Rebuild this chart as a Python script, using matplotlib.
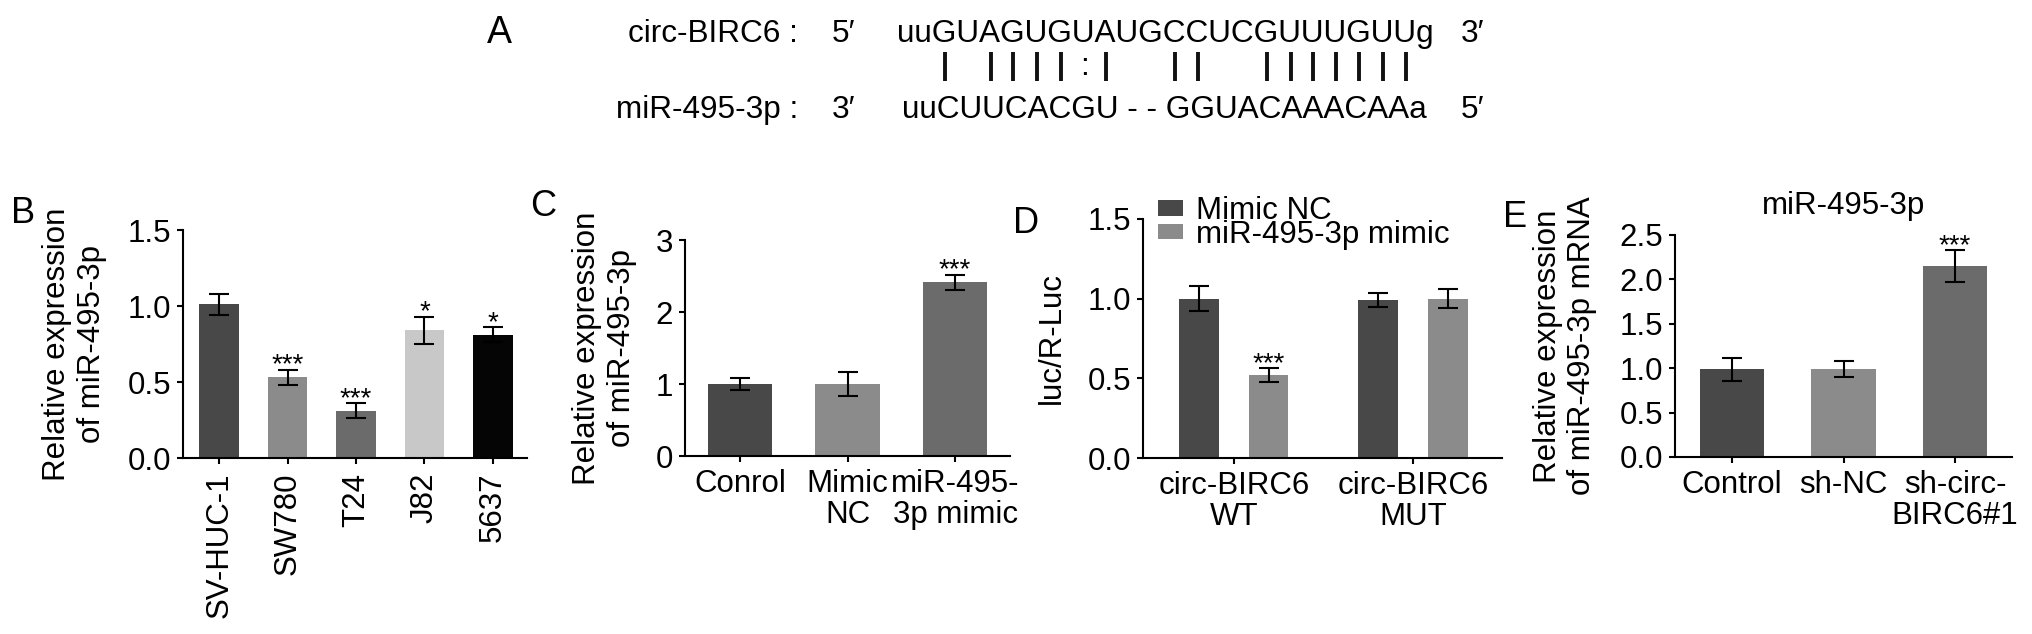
import matplotlib
matplotlib.use('Agg')
import matplotlib.pyplot as plt
import numpy as np
from matplotlib.font_manager import FontProperties
from matplotlib.lines import Line2D

plt.rcParams['font.family'] = ['Liberation Sans', 'DejaVu Sans']

# ---------------- data ----------------
a_top_name = 'circ-BIRC6 :'
a_top_seq = 'uuGUAGUGUAUGCCUCGUUUGUUg'
a_bot_name = 'miR-495-3p :'
a_bot_seq = 'uuCUUCACGU - - GGUACAAACAAa'
a_pairs = '  ' + '|' + ' ' + '||||' + ':' + '|' + '  ' + '||' + '  ' + '|||||||' + ' '

b_cats = ['SV-HUC-1', 'SW780', 'T24', 'J82', '5637']
b_vals = [1.01, 0.53, 0.31, 0.84, 0.81]
b_errs = [0.07, 0.05, 0.05, 0.09, 0.05]
b_sig = ['', '***', '***', '*', '*']
b_colors = ['#484848', '#8b8b8b', '#6b6b6b', '#c8c8c8', '#050505']

c_cats = ['Conrol', 'Mimic\nNC', 'miR-495-\n3p mimic']
c_vals = [1.0, 1.0, 2.41]
c_errs = [0.08, 0.17, 0.11]
c_sig = ['', '', '***']
c_colors = ['#484848', '#8b8b8b', '#6b6b6b']

d_groups = ['circ-BIRC6\nWT', 'circ-BIRC6\nMUT']
d_series = ['Mimic NC', 'miR-495-3p mimic']
d_nc_vals = [1.0, 0.99]
d_nc_errs = [0.08, 0.045]
d_mimic_vals = [0.52, 1.0]
d_mimic_errs = [0.045, 0.06]
d_mimic_sig = ['***', '']
d_colors = ['#484848', '#8b8b8b']

e_cats = ['Control', 'sh-NC', 'sh-circ-\nBIRC6#1']
e_vals = [0.99, 0.99, 2.15]
e_errs = [0.13, 0.09, 0.18]
e_sig = ['', '', '***']
e_colors = ['#484848', '#8b8b8b', '#6b6b6b']
e_title = 'miR-495-3p'

# ---------------- figure ----------------
W, H, DPI = 2032, 634, 100
fig = plt.figure(figsize=(W / DPI, H / DPI), dpi=DPI)

FS = 22.5
TFS = 22.5
AFS = 22.7
LFS = 26
LW = 1.5


def add_ax(x0, y_top, x1, y_bot):
    return fig.add_axes([x0 / W, 1 - y_bot / H, (x1 - x0) / W, (y_bot - y_top) / H])


def style(ax):
    for s in ['top', 'right']:
        ax.spines[s].set_visible(False)
    for s in ['left', 'bottom']:
        ax.spines[s].set_linewidth(LW)
    ax.tick_params(width=LW, length=4.5, labelsize=TFS, pad=4)


def stars(ax, xs, vals, errs, sigs):
    for x, v, e, s in zip(xs, vals, errs, sigs):
        if s:
            ax.annotate(s, (x, v + e), xytext=(0, -2), textcoords='offset points',
                        ha='center', va='baseline', fontsize=20)


ekw = dict(ecolor='black', capsize=7, error_kw=dict(elinewidth=LW, capthick=LW))

# ---- panel B ----
axB = add_ax(183, 230, 527, 458)
xb = np.arange(len(b_cats))
axB.bar(xb, b_vals, width=0.58, yerr=b_errs, color=b_colors, **ekw)
style(axB)
axB.set_xlim(-0.53, 4.5)
axB.set_ylim(0, 1.5)
axB.set_yticks([0, 0.5, 1.0, 1.5])
axB.set_yticklabels(['0.0', '0.5', '1.0', '1.5'])
axB.set_xticks(xb)
axB.set_xticklabels(b_cats, rotation=90, ha='center', va='top')
axB.tick_params(axis='x', pad=6)
axB.set_ylabel('Relative expression\nof miR-495-3p', fontsize=FS)
axB.yaxis.set_label_coords(-0.221, 0.5)
stars(axB, xb, b_vals, b_errs, b_sig)

# ---- panel C ----
axC = add_ax(685, 240, 1010, 456)
xc = np.arange(len(c_cats))
axC.bar(xc, c_vals, width=0.6, yerr=c_errs, color=c_colors, **ekw)
style(axC)
axC.set_xlim(-0.51, 2.51)
axC.set_ylim(0, 3)
axC.set_yticks([0, 1, 2, 3])
axC.set_xticks(xc)
axC.set_xticklabels(c_cats)
for t in axC.get_xticklabels():
    t.set_linespacing(1.05)
axC.tick_params(axis='x', pad=5)
axC.set_ylabel('Relative expression\nof miR-495-3p', fontsize=FS)
axC.yaxis.set_label_coords(-0.148, 0.5)
stars(axC, xc, c_vals, c_errs, c_sig)

# ---- panel D ----
axD = add_ax(1143, 219, 1502, 458)
xd = np.arange(len(d_groups))
off, bw = 0.193, 0.223
axD.bar(xd - off, d_nc_vals, width=bw, yerr=d_nc_errs, color=d_colors[0],
        label=d_series[0], **ekw)
axD.bar(xd + off, d_mimic_vals, width=bw, yerr=d_mimic_errs, color=d_colors[1],
        label=d_series[1], **ekw)
style(axD)
axD.set_xlim(-0.508, 1.497)
axD.set_ylim(0, 1.5)
axD.set_yticks([0, 0.5, 1.0, 1.5])
axD.set_yticklabels(['0.0', '0.5', '1.0', '1.5'])
axD.set_xticks(xd)
axD.set_xticklabels(d_groups)
for t in axD.get_xticklabels():
    t.set_linespacing(1.05)
axD.tick_params(axis='x', pad=5)
axD.set_ylabel('luc/R-Luc', fontsize=FS)
axD.yaxis.set_label_coords(-0.212, 0.5)
stars(axD, xd + off, d_mimic_vals, d_mimic_errs, d_mimic_sig)
axD.legend(loc='upper left', bbox_to_anchor=(1158 / W, 1 - 196 / H),
           bbox_transform=fig.transFigure, frameon=False, fontsize=FS,
           handlelength=0.8, handleheight=0.4, handletextpad=0.4,
           labelspacing=-0.2, borderpad=0, borderaxespad=0)

# ---- panel E ----
axE = add_ax(1675, 235, 2012, 457)
xe = np.arange(len(e_cats))
axE.bar(xe, e_vals, width=0.574, yerr=e_errs, color=e_colors, **ekw)
style(axE)
axE.set_xlim(-0.51, 2.51)
axE.set_ylim(0, 2.5)
axE.set_yticks([0, 0.5, 1.0, 1.5, 2.0, 2.5])
axE.set_yticklabels(['0.0', '0.5', '1.0', '1.5', '2.0', '2.5'])
axE.set_xticks(xe)
axE.set_xticklabels(e_cats)
for t in axE.get_xticklabels():
    t.set_linespacing(1.05)
axE.tick_params(axis='x', pad=5)
axE.set_ylabel('Relative expression\nof miR-495-3p mRNA', fontsize=FS)
axE.yaxis.set_label_coords(-0.231, 0.5)
axE.set_title(e_title, fontsize=FS, pad=15)
stars(axE, xe, e_vals, e_errs, e_sig)


# ---- panel letters ----
def ftext(x, y, s, **kw):
    return fig.text(x / W, 1 - y / H, s, **kw)


ftext(487, 43, 'A', fontsize=27, va='baseline', ha='left')
ftext(11, 223, 'B', fontsize=LFS, va='baseline', ha='left')
ftext(530, 216, 'C', fontsize=LFS, va='baseline', ha='left')
ftext(1013, 233, 'D', fontsize=LFS, va='baseline', ha='left')
ftext(1503, 227, 'E', fontsize=LFS, va='baseline', ha='left')

# ---- panel A (sequence alignment) ----
TOP_BL, BOT_BL = 42, 118
ftext(798, TOP_BL, a_top_name, fontsize=AFS, va='baseline', ha='right')
ftext(832, TOP_BL, '5\u2032', fontsize=AFS, va='baseline', ha='left')
ftext(897, TOP_BL, a_top_seq, fontsize=AFS, va='baseline', ha='left')
ftext(1461, TOP_BL, '3\u2032', fontsize=AFS, va='baseline', ha='left')
ftext(798, BOT_BL, a_bot_name, fontsize=AFS, va='baseline', ha='right')
ftext(832, BOT_BL, '3\u2032', fontsize=AFS, va='baseline', ha='left')
ftext(902, BOT_BL, a_bot_seq, fontsize=AFS, va='baseline', ha='left')
ftext(1461, BOT_BL, '5\u2032', fontsize=AFS, va='baseline', ha='left')

renderer = fig.canvas.get_renderer()
fp = FontProperties(family=['Liberation Sans', 'DejaVu Sans'], size=AFS)


def tw(s):
    if not s:
        return 0.0
    w, h, d = renderer.get_text_width_height_descent(s, fp, ismath=False)
    return w


x0 = 898
for i, sym in enumerate(a_pairs):
    if sym == ' ':
        continue
    cx = x0 + (tw(a_top_seq[:i]) + tw(a_top_seq[:i + 1])) / 2
    if sym == '|':
        fig.add_artist(Line2D([cx / W, cx / W], [1 - 52 / H, 1 - 81 / H],
                              transform=fig.transFigure, color='#111111',
                              linewidth=2.8, solid_capstyle='butt'))
    else:
        ftext(cx, 67, sym, fontsize=AFS, va='center', ha='center')

fig.savefig('out.png', dpi=DPI)
